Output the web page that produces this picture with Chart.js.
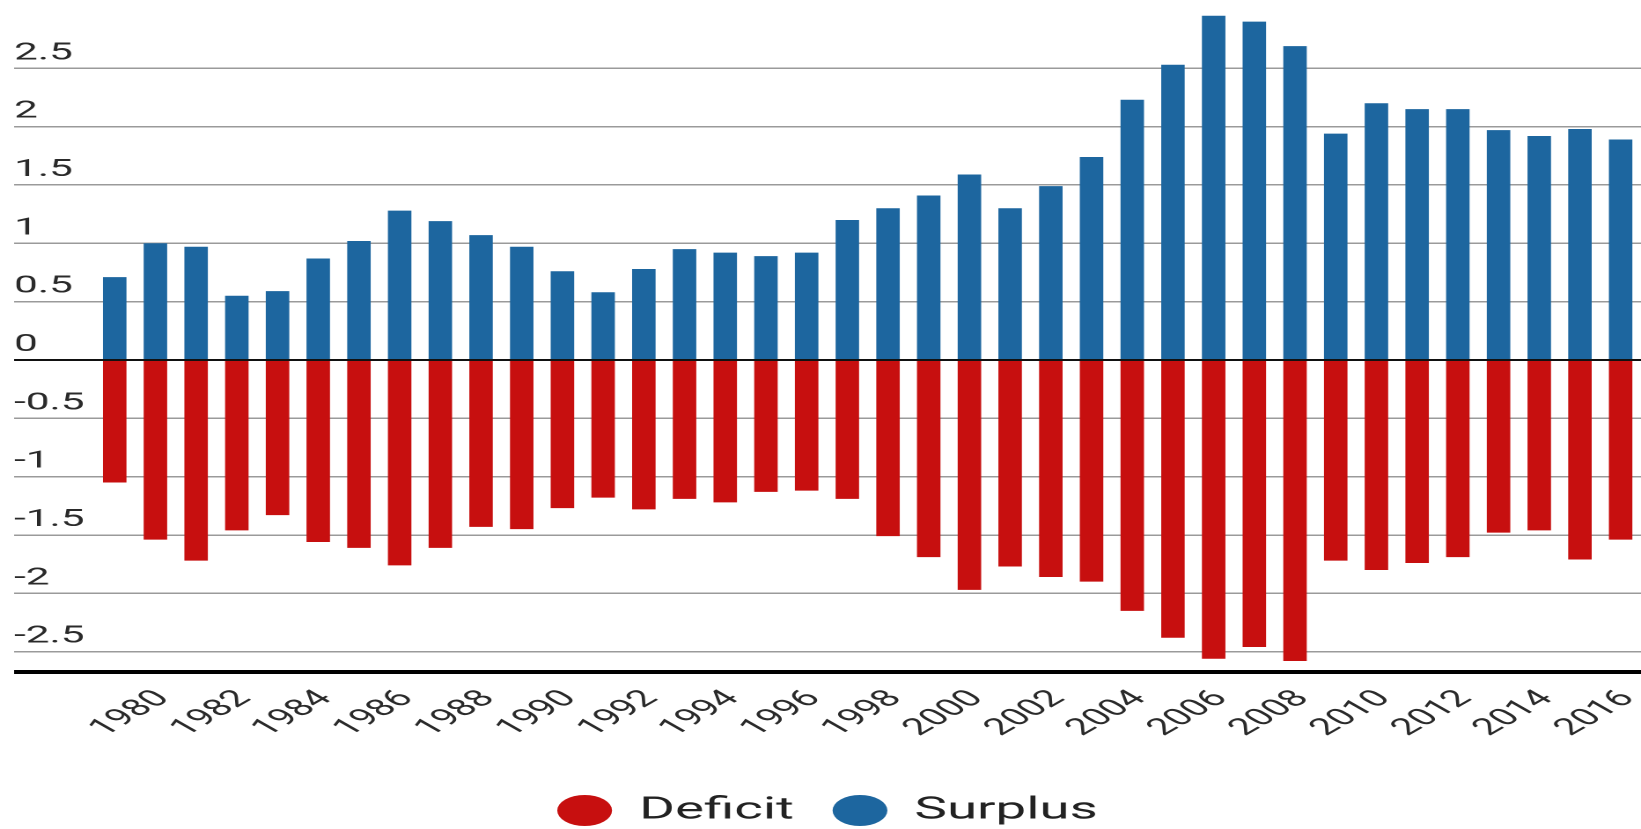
<!DOCTYPE html>
<html>
<head>
<meta charset="utf-8">
<script src="https://cdn.jsdelivr.net/npm/chart.js@4.4.1/dist/chart.umd.min.js"></script>
<style>
  html, body { margin: 0; padding: 0; background: #fff; overflow: hidden; }
  #wrap { width: 932px; height: 836px; transform: scaleX(1.7607); transform-origin: 0 0; }
</style>
</head>
<body>
<div id="wrap"><canvas id="chart" width="932" height="836"></canvas></div>
<script>
// Yearly balance, split into surplus (above zero) and deficit (below zero)
const years = [
  '1979','1980','1981','1982','1983','1984','1985','1986','1987','1988',
  '1989','1990','1991','1992','1993','1994','1995','1996','1997','1998',
  '1999','2000','2001','2002','2003','2004','2005','2006','2007','2008',
  '2009','2010','2011','2012','2013','2014','2015','2016'
];
const surplus = [
  0.71, 1.00, 0.97, 0.55, 0.59, 0.87, 1.02, 1.28, 1.19, 1.07,
  0.97, 0.76, 0.58, 0.78, 0.95, 0.92, 0.89, 0.92, 1.20, 1.30,
  1.41, 1.59, 1.30, 1.49, 1.74, 2.23, 2.53, 2.95, 2.90, 2.69,
  1.94, 2.20, 2.15, 2.15, 1.97, 1.92, 1.98, 1.89
];
const deficit = [
  -1.05, -1.54, -1.72, -1.46, -1.33, -1.56, -1.61, -1.76, -1.61, -1.43,
  -1.45, -1.27, -1.18, -1.28, -1.19, -1.22, -1.13, -1.12, -1.19, -1.51,
  -1.69, -1.97, -1.77, -1.86, -1.90, -2.15, -2.38, -2.56, -2.46, -2.58,
  -1.72, -1.80, -1.74, -1.69, -1.48, -1.46, -1.71, -1.54
];
const yTickValues = [-2.5, -2, -1.5, -1, -0.5, 0, 0.5, 1, 1.5, 2, 2.5];
const yMin = -2.674;
const yMax = 3.085;

const AXIS_WIDTH = 45.6;

// Heavy line at zero drawn over the bars
const zeroLine = {
  id: 'zeroLine',
  afterDatasetsDraw(chart) {
    const { ctx, chartArea, scales } = chart;
    const y = scales.y.getPixelForValue(0);
    ctx.save();
    ctx.strokeStyle = '#111';
    ctx.lineWidth = 2;
    ctx.beginPath();
    ctx.moveTo(chartArea.left, y);
    ctx.lineTo(chartArea.right, y);
    ctx.stroke();
    ctx.restore();
  }
};

function gridColor(ctx) {
  const v = ctx.tick && ctx.tick.value;
  if (v === yMin) return '#000';
  if (v === 0) return '#111';
  return '#9a9a9a';
}
function gridWidth(ctx) {
  const v = ctx.tick && ctx.tick.value;
  if (v === yMin) return 4;
  if (v === 0) return 2;
  return 1.5;
}

new Chart(document.getElementById('chart'), {
  type: 'bar',
  data: {
    labels: years,
    datasets: [
      { label: 'Deficit', data: deficit, backgroundColor: '#c70f0f', borderWidth: 0 },
      { label: 'Surplus', data: surplus, backgroundColor: '#1d669f', borderWidth: 0 }
    ]
  },
  plugins: [zeroLine],
  options: {
    responsive: false,
    animation: false,
    devicePixelRatio: 2,
    datasets: { bar: { categoryPercentage: 1, barPercentage: 0.577 } },
    layout: { padding: { left: 8, right: 0, top: 0, bottom: 0 } },
    font: { family: 'Roboto' },
    plugins: {
      tooltip: { enabled: false },
      legend: {
        position: 'bottom',
        labels: {
          usePointStyle: true,
          pointStyle: 'circle',
          boxHeight: 22,
          boxWidth: 31,
          padding: 22,
          color: '#222',
          font: { family: 'Roboto', size: 31 }
        }
      }
    },
    scales: {
      x: {
        stacked: true,
        grid: { display: false, drawTicks: false },
        border: { display: false },
        ticks: {
          autoSkip: false,
          minRotation: 45,
          maxRotation: 45,
          padding: 13,
          labelOffset: 4.5,
          color: '#2a2a2a',
          font: { family: 'Roboto', size: 23.5 },
          callback(value, index) {
            const y = Number(years[index]);
            return y % 2 === 0 ? years[index] : '';
          }
        },
        afterFit(scale) {
          scale.height = 101;
          scale.paddingLeft = 0;
          scale.paddingRight = 0;
        }
      },
      y: {
        stacked: true,
        min: yMin,
        max: yMax,
        border: { display: false },
        grid: {
          color: gridColor,
          lineWidth: gridWidth,
          drawTicks: true,
          tickLength: AXIS_WIDTH
        },
        ticks: {
          crossAlign: 'far',
          labelOffset: -15,
          padding: 0,
          color: '#2a2a2a',
          font: { family: 'Roboto', size: 24 },
          callback(value) {
            return yTickValues.includes(value) ? String(value) : '';
          }
        },
        afterBuildTicks(scale) {
          scale.ticks = [yMin].concat(yTickValues).map(v => ({ value: v }));
        },
        afterFit(scale) {
          scale.width = AXIS_WIDTH;
          scale.paddingTop = 0;
          scale.paddingBottom = 0;
        }
      }
    }
  }
});
</script>
</body>
</html>
